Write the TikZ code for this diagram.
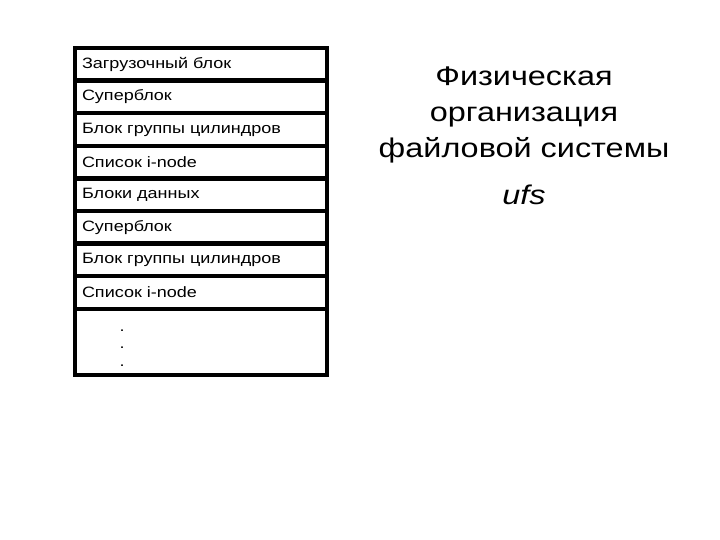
\documentclass[tikz,border=0pt]{standalone}
\usepackage{fontspec}
\setmainfont{Liberation Sans}[FakeStretch=1.2]
\usetikzlibrary{positioning}
\tikzset{
  blk/.style={draw,line width=4.5bp,outer sep=0pt,minimum width=252bp,minimum height=32.6bp,
    text width=238bp,inner xsep=7bp,align=left,font=\fontsize{15bp}{18bp}\selectfont},
  big/.style={inner sep=0pt,align=center,font=\fontsize{27bp}{36bp}\selectfont}
}
\begin{document}
\begin{tikzpicture}[x=1bp,y=-1bp]
    \useasboundingbox (0,0) rectangle (720,540);
    \node[blk] (boot) at (201,64.3) {Загрузочный блок};
    \node[blk,below=0pt of boot] (sb1) {Суперблок};
    \node[blk,below=0pt of sb1] (cg1) {Блок группы цилиндров};
    \node[blk,below=0pt of cg1] (in1) {Список i-node};
    \node[blk,below=0pt of in1] (data) {Блоки данных};
    \node[blk,below=0pt of data] (sb2) {Суперблок};
    \node[blk,below=0pt of sb2] (cg2) {Блок группы цилиндров};
    \node[blk,below=0pt of cg2] (in2) {Список i-node};
    \node[blk,below=0pt of in2,minimum height=66bp] (rest) {};
    \node[inner sep=0pt,align=center,font=\fontsize{15bp}{17.5bp}\selectfont] (dots) at (122,348) {.\\.\\.};
    \node[big,anchor=north] (title) at (524,67) {Физическая\\организация\\файловой системы};
    \node[big,anchor=base,font=\fontsize{27bp}{36bp}\selectfont\itshape] (ufs) at (524,205) {ufs};
\end{tikzpicture}
\end{document}
